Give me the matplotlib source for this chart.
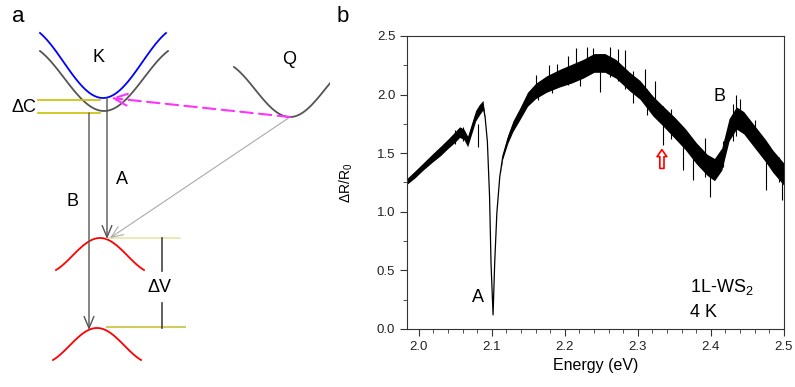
import numpy as np
import matplotlib.pyplot as plt

plt.rcParams['font.family'] = ['Liberation Sans', 'DejaVu Sans']
plt.rcParams['mathtext.default'] = 'regular'

# ---- panel b: spectrum ----
energy = [1.984, 1.995, 2.005, 2.019, 2.030, 2.040, 2.050, 2.056, 2.062, 2.067,
          2.072, 2.078, 2.083, 2.088, 2.091, 2.094, 2.097, 2.099, 2.1018, 2.104,
          2.107, 2.111, 2.115, 2.122, 2.129, 2.138, 2.149, 2.160, 2.175, 2.193,
          2.210, 2.225, 2.240, 2.255, 2.270, 2.289, 2.303, 2.321, 2.334, 2.350,
          2.365, 2.380, 2.395, 2.405, 2.415, 2.425, 2.435, 2.445, 2.455, 2.465,
          2.475, 2.485, 2.500]
dr_r0 = [1.26, 1.32, 1.38, 1.46, 1.52, 1.58, 1.64, 1.68, 1.66, 1.60,
         1.70, 1.82, 1.87, 1.91, 1.80, 1.60, 1.13, 0.56, 0.12, 0.56,
         0.99, 1.30, 1.47, 1.62, 1.73, 1.83, 1.96, 2.03, 2.09, 2.14,
         2.18, 2.22, 2.27, 2.27, 2.22, 2.11, 2.04, 1.90, 1.82, 1.72,
         1.62, 1.50, 1.40, 1.36, 1.45, 1.70, 1.80, 1.76, 1.68, 1.60,
         1.52, 1.43, 1.32]
# half-width of the noise band
noise = [0.025, 0.03, 0.03, 0.035, 0.04, 0.04, 0.045, 0.045, 0.045, 0.045,
         0.045, 0.045, 0.045, 0.04, 0.0, 0.0, 0.0, 0.0, 0.0, 0.0,
         0.0, 0.0, 0.02, 0.035, 0.045, 0.05, 0.06, 0.065, 0.07, 0.075,
         0.08, 0.08, 0.08, 0.08, 0.08, 0.08, 0.08, 0.085, 0.085, 0.09,
         0.09, 0.09, 0.09, 0.095, 0.095, 0.095, 0.095, 0.095, 0.095, 0.095,
         0.095, 0.095, 0.095]
# prominent spikes: energy, lower end, upper end
spike_e = [2.050, 2.060, 2.081, 2.161, 2.164, 2.179, 2.182, 2.190, 2.205, 2.216,
           2.221, 2.230, 2.238, 2.248, 2.262, 2.273, 2.282, 2.293, 2.310, 2.312,
           2.323, 2.334, 2.345, 2.362, 2.376, 2.392, 2.399, 2.417, 2.430, 2.435,
           2.440, 2.460, 2.476, 2.494, 2.497]
spike_lo = [1.58, 1.60, 1.55, 2.00, 1.95, 2.05, 2.01, 2.10, 2.08, 2.15,
            2.07, 2.18, 2.20, 2.02, 2.15, 2.12, 2.05, 1.93, 1.95, 1.83,
            1.85, 1.57, 1.62, 1.36, 1.27, 1.30, 1.13, 1.38, 1.60, 1.65,
            1.70, 1.55, 1.19, 1.25, 1.10]
spike_hi = [1.70, 1.72, 1.75, 2.17, 2.10, 2.25, 2.15, 2.26, 2.33, 2.40,
            2.25, 2.41, 2.40, 2.30, 2.41, 2.39, 2.38, 2.20, 2.22, 2.05,
            2.12, 1.90, 1.88, 1.65, 1.55, 1.63, 1.45, 1.60, 1.92, 2.00,
            1.96, 1.78, 1.55, 1.47, 1.35]

# ---- panel a: schematic band diagram (pixel coordinates) ----
# (centre x, extreme y, half width, depth, colour, sign)
bands = [(103, 98, 63, 65, 'blue', 1),
         (104, 111, 64, 60, '#555555', 1),
         (290, 117, 56, 50, '#555555', 1),
         (100, 238, 44, 32, 'red', -1),
         (97, 328, 44, 32, 'red', -1)]

fig = plt.figure(figsize=(7.95, 3.87), dpi=100)

axa = fig.add_axes([0, 0, 330 / 795, 1])
axa.set_xlim(0, 330)
axa.set_ylim(387, 0)
axa.axis('off')

k = 0.8 * np.pi
for xc, y0, hw, d, col, s in bands:
    xs = np.linspace(xc - hw, min(xc + hw, 330), 100)
    t = (xs - xc) / hw
    ys = y0 - s * d * (1 - np.cos(k * t)) / (1 - np.cos(k))
    axa.plot(xs, ys, color=col, lw=1.3)

# Delta C / Delta V level lines
axa.plot([38, 100], [100, 100], color='#c8c000', lw=1.2)
axa.plot([38, 100], [113, 113], color='#c8c000', lw=1.2)
axa.plot([107, 180], [238, 238], color='#e6e6a8', lw=1.2)
axa.plot([107, 185], [327, 327], color='#d2cc60', lw=1.5)
axa.plot([162, 162], [238, 271], color='#444444', lw=1.2)
axa.plot([162, 162], [303, 328], color='#444444', lw=1.2)

arrow = dict(arrowstyle='->,head_length=0.6,head_width=0.25', color='#555555',
             lw=1.0, shrinkA=0, shrinkB=0, mutation_scale=14)
axa.annotate('', xy=(107, 239), xytext=(107, 98), arrowprops=arrow)
axa.annotate('', xy=(89, 330), xytext=(89, 113), arrowprops=arrow)
axa.annotate('', xy=(110, 238), xytext=(290, 117),
             arrowprops=dict(arrowstyle='->,head_length=0.6,head_width=0.25',
                             color='#aaaaaa', lw=0.8, shrinkA=0, shrinkB=0,
                             mutation_scale=14))
axa.annotate('', xy=(111, 98), xytext=(290, 117),
             arrowprops=dict(arrowstyle='->,head_length=0.7,head_width=0.3',
                             color='#ff33ff', lw=1.5, ls=(0, (6, 3)),
                             shrinkA=0, shrinkB=0, mutation_scale=14))

axa.text(18, 16, 'a', fontsize=16, ha='center', va='center')
axa.text(98, 58, 'K', fontsize=13, ha='center', va='center')
axa.text(289, 59, 'Q', fontsize=13, ha='center', va='center')
axa.text(24, 108, 'ΔC', fontsize=13, ha='center', va='center')
axa.text(122, 180, 'A', fontsize=13, ha='center', va='center')
axa.text(72, 201, 'B', fontsize=13, ha='center', va='center')
axa.text(160, 287, 'ΔV', fontsize=13, ha='center', va='center')

# ---- panel b ----
ax = fig.add_axes([0.512, 0.150, 0.474, 0.757])
e = np.array(energy)
v = np.array(dr_r0)
n = np.array(noise)
ax.fill_between(e, v - n, v + n, color='black', lw=0)
ax.plot(e, v, color='black', lw=0.9)
ax.vlines(spike_e, spike_lo, spike_hi, color='black', lw=0.8)

ax.set_xlim(1.984, 2.5)
ax.set_ylim(0, 2.5)
ax.set_xticks(np.arange(2.0, 2.51, 0.1))
ax.set_xticks(np.arange(2.0, 2.51, 0.02), minor=True)
ax.set_yticks(np.arange(0, 2.51, 0.5))
ax.set_yticks(np.arange(0, 2.51, 0.25), minor=True)
ax.xaxis.set_major_formatter(plt.FormatStrFormatter('%.1f'))
ax.yaxis.set_major_formatter(plt.FormatStrFormatter('%.1f'))
ax.tick_params(which='major', length=5, labelsize=9.5, color='#333333',
               labelcolor='#222222')
ax.tick_params(which='minor', length=3, color='#333333')
for sp in ax.spines.values():
    sp.set_color('#333333')
ax.set_xlabel('Energy (eV)', fontsize=11.5)
ax.set_ylabel('ΔR/R$_0$', fontsize=10, labelpad=16)

ax.text(2.081, 0.27, 'A', fontsize=13, ha='center', va='center')
ax.text(2.412, 1.98, 'B', fontsize=13, ha='center', va='center')
ax.text(2.415, 0.36, '1L-WS$_2$', fontsize=13, ha='center', va='center')
ax.text(2.39, 0.14, '4 K', fontsize=13, ha='center', va='center')
ax.annotate('', xy=(2.333, 1.53), xytext=(2.333, 1.37),
            arrowprops=dict(arrowstyle='simple,head_width=0.7,head_length=0.5,tail_width=0.3',
                            fc='white', ec='red', lw=1.2, shrinkA=0, shrinkB=0,
                            mutation_scale=10))
fig.text(343 / 795, 1 - 17 / 387, 'b', fontsize=16, ha='center', va='center')

fig.savefig('out.png', dpi=100)
